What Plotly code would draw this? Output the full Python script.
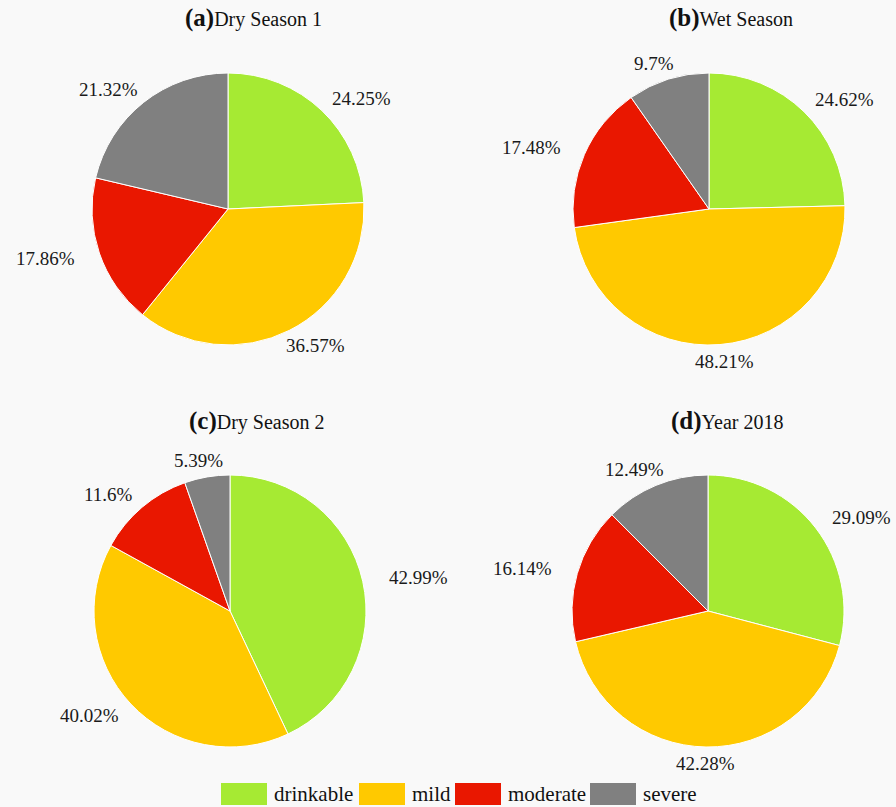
import math
import plotly.graph_objects as go

categories = ["drinkable", "mild", "moderate", "severe"]
colors = ["#a6ea33", "#ffc900", "#e91700", "#808080"]

dry1 = [24.25, 36.57, 17.86, 21.32]
wet = [24.62, 48.21, 17.48, 9.70]
dry2 = [42.99, 40.02, 11.60, 5.39]
year2018 = [29.09, 42.28, 16.14, 12.49]
text_dry1 = ["24.25%", "36.57%", "17.86%", "21.32%"]
text_wet = ["24.62%", "48.21%", "17.48%", "9.7%"]
text_dry2 = ["42.99%", "40.02%", "11.6%", "5.39%"]
text_year = ["29.09%", "42.28%", "16.14%", "12.49%"]

panel_tags = ["(a)", "(b)", "(c)", "(d)"]
panel_names = ["Dry Season 1", "Wet Season", "Dry Season 2", "Year 2018"]

SERIF = "'Liberation Serif', 'Times New Roman', Times, serif"
W, H = 896, 807
R = 136
LABEL_SIZE = 19
centers = [(228, 209), (709, 209), (230, 611), (708, 611)]
title_pos = [(253, 18), (731, 18), (257, 421), (727, 421)]


def dom(cx, cy, r):
    return dict(x=[(cx - r) / W, (cx + r) / W], y=[1 - (cy + r) / H, 1 - (cy - r) / H])


def text_width(s, size):
    w = 0.0
    for ch in s:
        if ch.isdigit():
            w += 0.5 * size
        elif ch == ".":
            w += 0.25 * size
        elif ch == "%":
            w += 0.833 * size
        else:
            w += 0.5 * size
    return w


fig = go.Figure()
annotations = []
series = [(dry1, text_dry1), (wet, text_wet), (dry2, text_dry2), (year2018, text_year)]
for (vals, txt), (cx, cy) in zip(series, centers):
    fig.add_trace(go.Pie(
        labels=categories, values=vals,
        textinfo="none",
        sort=False, direction="clockwise", rotation=0,
        marker=dict(colors=colors, line=dict(color="white", width=1)),
        domain=dom(cx, cy, R),
        showlegend=False, automargin=False,
        hoverinfo="label+value",
    ))
    # outside labels at the mid-angle of each slice
    total = sum(vals)
    cum = 0.0
    for v, t in zip(vals, txt):
        mid = (cum + v / 2) / total * 2 * math.pi
        cum += v
        s, c = math.sin(mid), math.cos(mid)
        w = text_width(t, LABEL_SIZE)
        px = cx + s * (R + 8) + s * (w / 2 + 20)
        py = cy - c * (R + 8) - c * 9
        annotations.append(dict(
            x=px / W, y=1 - py / H, xref="paper", yref="paper",
            text=t, showarrow=False, xanchor="center", yanchor="middle",
            font=dict(family=SERIF, size=LABEL_SIZE, color="#1a1a1a"),
        ))

for tag, name, (tx, ty) in zip(panel_tags, panel_names, title_pos):
    annotations.append(dict(
        x=tx / W, y=1 - ty / H, xref="paper", yref="paper",
        text=f"<b><span style='font-size:25px'>{tag}</span></b>{name}",
        showarrow=False, font=dict(family=SERIF, size=20, color="#111"),
        xanchor="center", yanchor="middle",
    ))

# custom legend
shapes = []
leg_y = 794
sw_w, sw_h = 46, 22
leg_x = [221, 359, 455, 590]
for cat, col, lx in zip(categories, colors, leg_x):
    shapes.append(dict(type="rect", xref="paper", yref="paper",
                       x0=lx / W, x1=(lx + sw_w) / W,
                       y0=1 - (leg_y + sw_h / 2) / H, y1=1 - (leg_y - sw_h / 2) / H,
                       fillcolor=col, line=dict(width=0)))
    annotations.append(dict(x=(lx + sw_w + 5) / W, y=1 - leg_y / H, xref="paper", yref="paper",
                            text=cat, showarrow=False, xanchor="left", yanchor="middle",
                            font=dict(family=SERIF, size=21, color="#111")))

fig.update_layout(
    width=W, height=H,
    margin=dict(l=0, r=0, t=0, b=0),
    paper_bgcolor="#f9f9f9",
    plot_bgcolor="#f9f9f9",
    annotations=annotations,
    shapes=shapes,
    font=dict(family=SERIF),
)

fig.write_html("out.html")
